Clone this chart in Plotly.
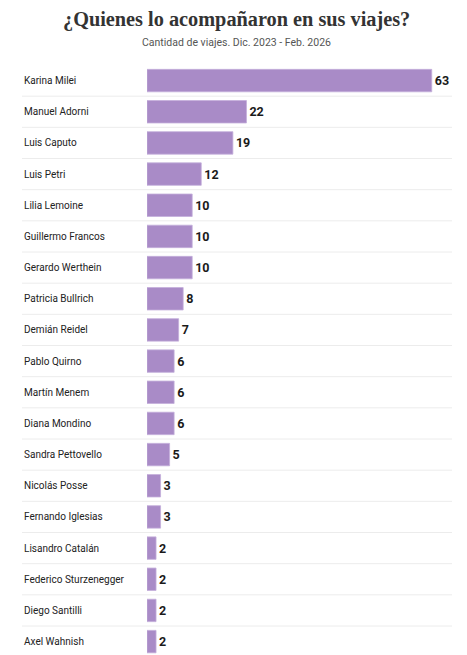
import plotly.graph_objects as go

names = [
    "Karina Milei", "Manuel Adorni", "Luis Caputo", "Luis Petri", "Lilia Lemoine",
    "Guillermo Francos", "Gerardo Werthein", "Patricia Bullrich", "Demián Reidel",
    "Pablo Quirno", "Martín Menem", "Diana Mondino", "Sandra Pettovello",
    "Nicolás Posse", "Fernando Iglesias", "Lisandro Catalán", "Federico Sturzenegger",
    "Diego Santilli", "Axel Wahnish",
]
trips = [63, 22, 19, 12, 10, 10, 10, 8, 7, 6, 6, 6, 5, 3, 3, 2, 2, 2, 2]

BAR = "#a98bc7"
# the page body has an 8px margin, so the figure is shifted in by 8px
OFF = 8
W, H = 467 - OFF, 655 - OFF
L, R = 147 - OFF, 452 - OFF  # plot area in px
TOP = 65 - OFF

fig = go.Figure(go.Bar(
    x=trips, y=list(range(len(names))), orientation="h",
    marker=dict(color=BAR, line=dict(color="#c4aedb", width=0.8)),
    width=0.72,
    text=[str(v) for v in trips], textposition="outside",
    textfont=dict(family="Roboto", size=12.5, color="#1a1a1a", weight="bold"),
    cliponaxis=False, hoverinfo="skip",
))

left_paper = (22 - OFF - L) / (R - L)

shapes = []
for i in range(len(names) - 1):
    shapes.append(dict(type="line", xref="paper", yref="y", x0=left_paper, x1=1,
                       y0=i + 0.5, y1=i + 0.5, line=dict(color="#ececec", width=1)))

annotations = []
for i, n in enumerate(names):
    annotations.append(dict(text=n, xref="paper", yref="y", x=left_paper, y=i,
                            xanchor="left", yanchor="middle", showarrow=False,
                            font=dict(family="Roboto", size=10, color="#222")))

annotations.append(dict(text="¿Quienes lo acompañaron en sus viajes?", xref="paper", yref="paper",
                        x=(236 - OFF - L) / (R - L), y=1, yshift=46, xanchor="center", yanchor="middle",
                        showarrow=False,
                        font=dict(family="Liberation Serif", size=20.3, color="#333", weight="bold")))
annotations.append(dict(text="Cantidad de viajes. Dic. 2023 - Feb. 2026", xref="paper", yref="paper",
                        x=(236 - OFF - L) / (R - L), y=1, yshift=23, xanchor="center", yanchor="middle",
                        showarrow=False,
                        font=dict(family="Roboto", size=10.5, color="#555")))

fig.update_layout(
    width=W, height=H,
    margin=dict(l=L, r=W - R, t=TOP, b=0),
    paper_bgcolor="white", plot_bgcolor="white",
    showlegend=False,
    xaxis=dict(range=[0, (R - L) / 4.52], visible=False, fixedrange=True),
    yaxis=dict(range=[len(names) - 0.57, -0.5], visible=False, fixedrange=True),
    shapes=shapes, annotations=annotations,
)

fig.write_html("out.html")
